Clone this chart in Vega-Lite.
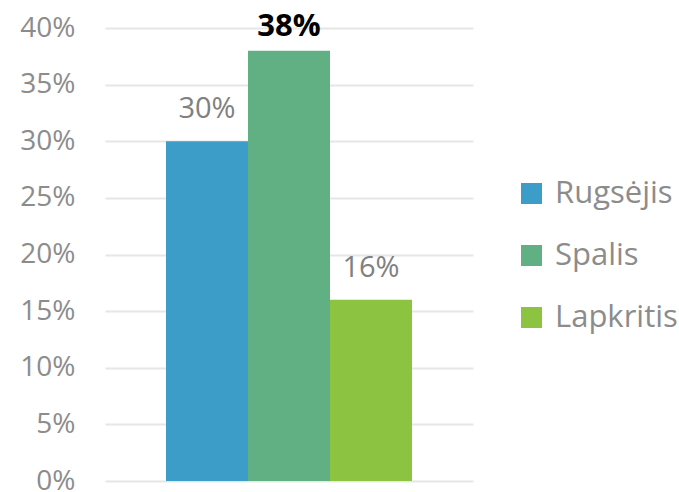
{
  "$schema": "https://vega.github.io/schema/vega-lite/v6.json",
  "autosize": {"type": "none"},
  "padding": {"left": 105, "top": 28, "right": 206, "bottom": 11},
  "width": 368,
  "height": 453,
  "config": {
    "view": {"stroke": null},
    "font": "Open Sans"
  },
  "data": {
    "values": [
      {"month": "Rugsėjis", "value": 0.30},
      {"month": "Spalis", "value": 0.38},
      {"month": "Lapkritis", "value": 0.16}
    ]
  },
  "encoding": {
    "x": {
      "field": "month",
      "type": "nominal",
      "sort": ["Rugsėjis", "Spalis", "Lapkritis"],
      "scale": {"paddingInner": 0, "paddingOuter": 0.744},
      "axis": null
    },
    "y": {
      "field": "value",
      "type": "quantitative",
      "scale": {"domain": [0, 0.4]},
      "axis": {
        "format": ".0%",
        "values": [0, 0.05, 0.1, 0.15, 0.2, 0.25, 0.3, 0.35, 0.4],
        "title": null,
        "domain": false,
        "ticks": false,
        "labelPadding": 30,
        "labelFontSize": 28,
        "labelColor": "#8c8c8c",
        "gridColor": "#e6e6e6",
        "gridWidth": 2
      }
    }
  },
  "layer": [
    {
      "mark": {"type": "bar"},
      "encoding": {
        "color": {
          "field": "month",
          "type": "nominal",
          "sort": ["Rugsėjis", "Spalis", "Lapkritis"],
          "scale": {"domain": ["Rugsėjis", "Spalis", "Lapkritis"], "range": ["#3d9dc9", "#61b083", "#8cc340"]},
          "legend": {
            "title": null,
            "orient": "none",
            "legendX": 411,
            "legendY": 150,
            "symbolType": "square",
            "symbolSize": 441,
            "symbolStrokeWidth": 0,
            "labelFontSize": 31,
            "labelColor": "#8c8c8c",
            "labelOffset": 8,
            "rowPadding": 30
          }
        }
      }
    },
    {
      "transform": [{"filter": "datum.month !== 'Spalis'"}],
      "mark": {"type": "text", "baseline": "alphabetic", "dy": -23, "fontSize": 29, "color": "#808080"},
      "encoding": {
        "text": {"field": "value", "type": "quantitative", "format": ".0%"}
      }
    },
    {
      "transform": [{"filter": "datum.month === 'Spalis'"}],
      "mark": {"type": "text", "baseline": "alphabetic", "dy": -15, "fontSize": 31, "fontWeight": "bold", "color": "#000000"},
      "encoding": {
        "text": {"field": "value", "type": "quantitative", "format": ".0%"}
      }
    }
  ]
}
